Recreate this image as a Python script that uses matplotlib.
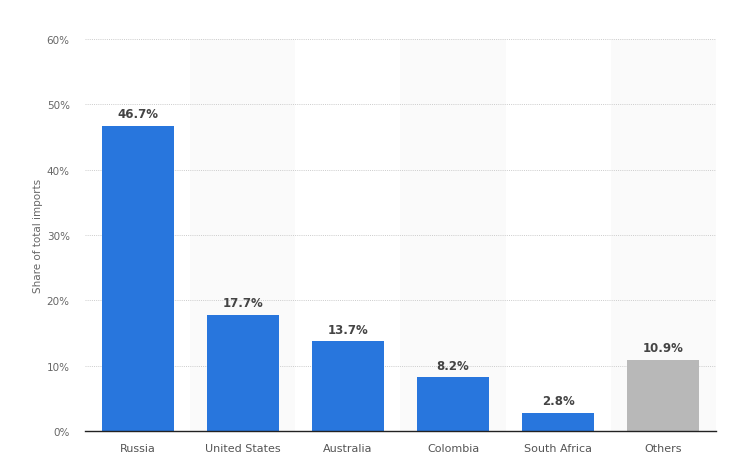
import matplotlib
matplotlib.use("Agg")
import matplotlib.pyplot as plt

categories = ["Russia", "United States", "Australia", "Colombia", "South Africa", "Others"]
values = [46.7, 17.7, 13.7, 8.2, 2.8, 10.9]
colors = ["#2876dd"] * 5 + ["#b8b8b8"]
yticks = [0, 10, 20, 30, 40, 50, 60]
ytick_labels = ["0%", "10%", "20%", "30%", "40%", "50%", "60%"]

plt.rcParams['font.family'] = ['DejaVu Sans']
fig = plt.figure(figsize=(7.29, 4.77), dpi=100)
ax = fig.add_axes([85/729, 1-432/477, (716-85)/729, (432-40)/477])

x = list(range(len(categories)))
for i in x:
    if i % 2 == 1:
        ax.axvspan(i - 0.5, i + 0.5, color="#fafafa", zorder=0, lw=0)
for t in yticks[1:]:
    ax.axhline(t, color="#cccccc", lw=0.7, ls=(0, (1, 1.2)), zorder=1)

bars = ax.bar(x, values, width=0.685, color=colors, zorder=2)
for xi, v in zip(x, values):
    ax.text(xi, v + 0.9, f"{v}%", ha="center", va="bottom", fontsize=8.5,
            fontweight="semibold", color="#444444", zorder=3)

ax.set_xlim(-0.5, len(categories) - 0.5)
ax.set_ylim(0, 60)
ax.set_yticks(yticks)
ax.set_yticklabels(ytick_labels, fontsize=7.5, color="#666666")
ax.set_xticks(x)
ax.set_xticklabels(categories, fontsize=8, color="#555555")
ax.tick_params(axis="both", length=0)
ax.tick_params(axis="x", pad=9)
ax.tick_params(axis="y", pad=11)
for s in ["top", "right", "left"]:
    ax.spines[s].set_visible(False)
ax.spines["bottom"].set_color("#222222")
ax.spines["bottom"].set_linewidth(1)
ax.set_ylabel("Share of total imports", fontsize=7.5, color="#666666", labelpad=3)

fig.savefig("out.png", dpi=100)
